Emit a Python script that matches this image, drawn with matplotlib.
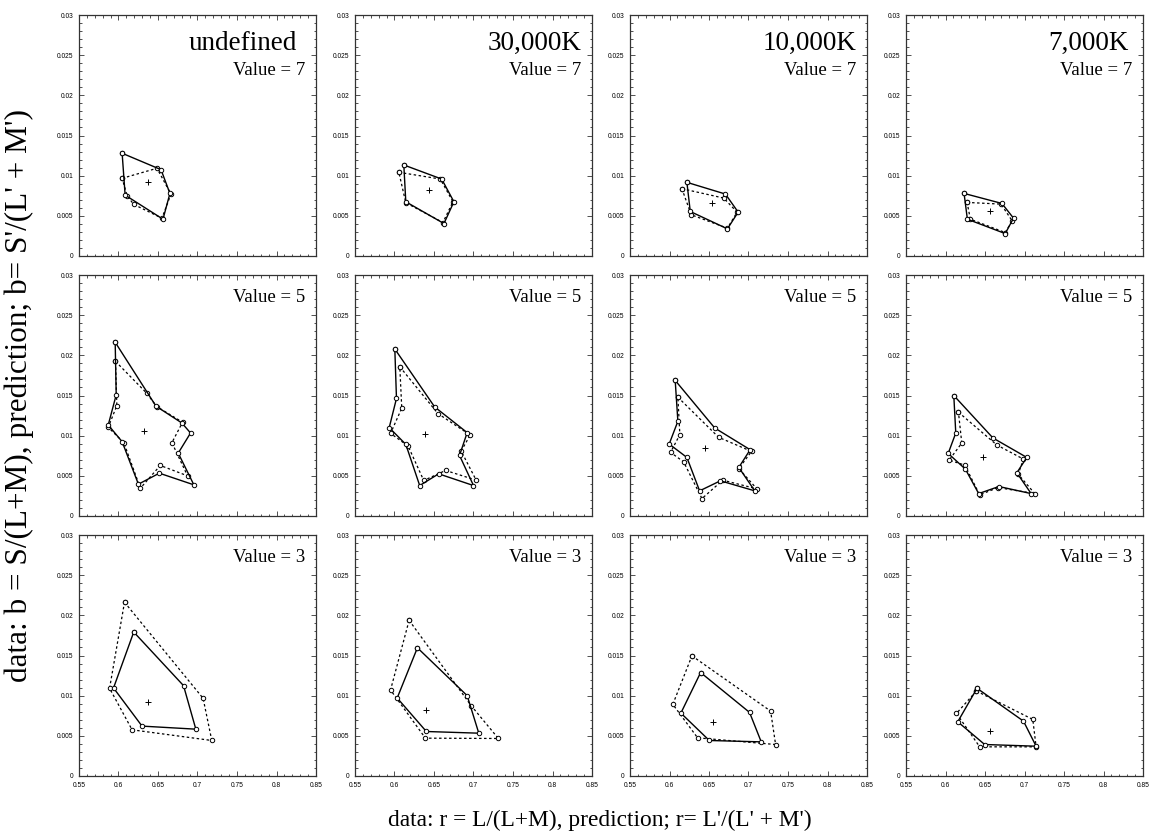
import numpy as np
import matplotlib
matplotlib.use("Agg")
import matplotlib.pyplot as plt
from matplotlib.ticker import FixedLocator, MultipleLocator, FixedFormatter

# ---------------- data ----------------
illuminants = ["undefined", "30,000K", "10,000K", "7,000K"]
values = [7, 5, 3]

x_ticks = [0.55, 0.6, 0.65, 0.7, 0.75, 0.8, 0.85]
x_tick_labels = ["0.55", "0.6", "0.65", "0.7", "0.75", "0.8", "0.85"]
y_ticks = [0, 0.005, 0.01, 0.015, 0.02, 0.025, 0.03]
y_tick_labels = ["0", "0.005", "0.01", "0.015", "0.02", "0.025", "0.03"]

# Value = 7 row
v7_undef_data_r = [0.6046, 0.6538, 0.6651, 0.6563, 0.6084]
v7_undef_data_b = [0.01279, 0.01075, 0.00779, 0.00458, 0.00758]
v7_undef_pred_r = [0.6046, 0.6487, 0.6664, 0.6550, 0.6193, 0.6109]
v7_undef_pred_b = [0.00967, 0.01092, 0.00771, 0.00471, 0.00642, 0.00750]
v7_undef_center = [0.637, 0.00925]

v7_30k_data_r = [0.6118, 0.6597, 0.6752, 0.6626, 0.6143]
v7_30k_data_b = [0.01133, 0.00958, 0.00675, 0.00404, 0.00675]
v7_30k_pred_r = [0.6055, 0.6580, 0.6740, 0.6613, 0.6143]
v7_30k_pred_b = [0.01042, 0.00958, 0.00675, 0.00417, 0.00663]
v7_30k_center = [0.6437, 0.00821]

v7_10k_data_r = [0.6220, 0.6708, 0.6869, 0.6733, 0.6263]
v7_10k_data_b = [0.00917, 0.00771, 0.00546, 0.00338, 0.00554]
v7_10k_pred_r = [0.6157, 0.6686, 0.6856, 0.6733, 0.6275]
v7_10k_pred_b = [0.00838, 0.00721, 0.00546, 0.00346, 0.00513]
v7_10k_center = [0.6538, 0.00663]

v7_7k_data_r = [0.6235, 0.6714, 0.6861, 0.6756, 0.6277]
v7_7k_data_b = [0.00779, 0.00654, 0.00471, 0.00279, 0.00458]
v7_7k_pred_r = [0.6273, 0.6702, 0.6844, 0.6756, 0.6315]
v7_7k_pred_b = [0.00667, 0.00646, 0.00438, 0.00292, 0.00458]
v7_7k_center = [0.6559, 0.00563]

# Value = 5 row
v5_undef_data_r = [0.5958, 0.6475, 0.6802, 0.6912, 0.6756, 0.6954, 0.6517, 0.6252, 0.6046, 0.5870, 0.5971]
v5_undef_data_b = [0.02163, 0.01367, 0.01158, 0.01033, 0.00783, 0.00388, 0.00533, 0.00396, 0.00925, 0.01133, 0.01508]
v5_undef_pred_r = [0.5962, 0.6357, 0.6483, 0.6811, 0.6676, 0.6874, 0.6529, 0.6277, 0.6067, 0.5870, 0.5979]
v5_undef_pred_b = [0.01925, 0.01529, 0.01363, 0.01167, 0.00913, 0.00500, 0.00629, 0.00346, 0.00913, 0.01104, 0.01375]
v5_undef_center = [0.6319, 0.01063]

v5_30k_data_r = [0.6004, 0.6508, 0.6920, 0.6823, 0.7000, 0.6559, 0.6319, 0.6143, 0.5933, 0.6025]
v5_30k_data_b = [0.02079, 0.01358, 0.01038, 0.00754, 0.00379, 0.00525, 0.00379, 0.00892, 0.01100, 0.01463]
v5_30k_pred_r = [0.6067, 0.6550, 0.6958, 0.6844, 0.7034, 0.6647, 0.6370, 0.6172, 0.5950, 0.6092]
v5_30k_pred_b = [0.01858, 0.01275, 0.01008, 0.00808, 0.00446, 0.00567, 0.00442, 0.00871, 0.01029, 0.01342]
v5_30k_center = [0.6382, 0.01017]

v5_10k_data_r = [0.6072, 0.6572, 0.7021, 0.6877, 0.7080, 0.6644, 0.6381, 0.6220, 0.5996, 0.6106]
v5_10k_data_b = [0.01688, 0.01096, 0.00825, 0.00604, 0.00313, 0.00438, 0.00313, 0.00729, 0.00896, 0.01179]
v5_10k_pred_r = [0.6106, 0.6623, 0.7038, 0.6877, 0.7106, 0.6674, 0.6411, 0.6178, 0.6013, 0.6131]
v5_10k_pred_b = [0.01479, 0.00979, 0.00804, 0.00590, 0.00338, 0.00446, 0.00217, 0.00675, 0.00792, 0.01013]
v5_10k_center = [0.6445, 0.00846]

v5_7k_data_r = [0.6105, 0.6601, 0.7029, 0.6903, 0.7084, 0.6676, 0.6420, 0.6252, 0.6034, 0.6130]
v5_7k_data_b = [0.01500, 0.00971, 0.00729, 0.00538, 0.00279, 0.00367, 0.00279, 0.00583, 0.00779, 0.01033]
v5_7k_pred_r = [0.6164, 0.6651, 0.6987, 0.6920, 0.7130, 0.6664, 0.6433, 0.6244, 0.6046, 0.6206]
v5_7k_pred_b = [0.01292, 0.00883, 0.00708, 0.00520, 0.00279, 0.00354, 0.00263, 0.00633, 0.00696, 0.00908]
v5_7k_center = [0.6474, 0.00729]

# Value = 3 row
v3_undef_data_r = [0.6193, 0.6823, 0.6979, 0.6298, 0.5937]
v3_undef_data_b = [0.01792, 0.01125, 0.00583, 0.00621, 0.01096]
v3_undef_pred_r = [0.6076, 0.7071, 0.7181, 0.6172, 0.5887]
v3_undef_pred_b = [0.02163, 0.00967, 0.00442, 0.00575, 0.01092]
v3_undef_center = [0.6370, 0.00925]

v3_30k_data_r = [0.6290, 0.6920, 0.7067, 0.6403, 0.6034]
v3_30k_data_b = [0.01596, 0.01000, 0.00533, 0.00554, 0.00971]
v3_30k_pred_r = [0.6185, 0.6971, 0.7315, 0.6391, 0.5950]
v3_30k_pred_b = [0.01938, 0.00875, 0.00467, 0.00471, 0.01071]
v3_30k_center = [0.6403, 0.00825]

v3_10k_data_r = [0.6394, 0.7013, 0.7161, 0.6504, 0.6144]
v3_10k_data_b = [0.01288, 0.00792, 0.00425, 0.00442, 0.00783]
v3_10k_pred_r = [0.6284, 0.7280, 0.7343, 0.6356, 0.6042]
v3_10k_pred_b = [0.01496, 0.00808, 0.00392, 0.00475, 0.00892]
v3_10k_center = [0.6555, 0.00667]

v3_7k_data_r = [0.6399, 0.6987, 0.7147, 0.6496, 0.6155]
v3_7k_data_b = [0.01092, 0.00683, 0.00371, 0.00392, 0.00675]
v3_7k_pred_r = [0.6391, 0.7105, 0.7147, 0.6433, 0.6139]
v3_7k_pred_b = [0.01058, 0.00704, 0.00363, 0.00363, 0.00779]
v3_7k_center = [0.6559, 0.00563]

panels = [
    [(v7_undef_data_r, v7_undef_data_b, v7_undef_pred_r, v7_undef_pred_b, v7_undef_center),
     (v7_30k_data_r, v7_30k_data_b, v7_30k_pred_r, v7_30k_pred_b, v7_30k_center),
     (v7_10k_data_r, v7_10k_data_b, v7_10k_pred_r, v7_10k_pred_b, v7_10k_center),
     (v7_7k_data_r, v7_7k_data_b, v7_7k_pred_r, v7_7k_pred_b, v7_7k_center)],
    [(v5_undef_data_r, v5_undef_data_b, v5_undef_pred_r, v5_undef_pred_b, v5_undef_center),
     (v5_30k_data_r, v5_30k_data_b, v5_30k_pred_r, v5_30k_pred_b, v5_30k_center),
     (v5_10k_data_r, v5_10k_data_b, v5_10k_pred_r, v5_10k_pred_b, v5_10k_center),
     (v5_7k_data_r, v5_7k_data_b, v5_7k_pred_r, v5_7k_pred_b, v5_7k_center)],
    [(v3_undef_data_r, v3_undef_data_b, v3_undef_pred_r, v3_undef_pred_b, v3_undef_center),
     (v3_30k_data_r, v3_30k_data_b, v3_30k_pred_r, v3_30k_pred_b, v3_30k_center),
     (v3_10k_data_r, v3_10k_data_b, v3_10k_pred_r, v3_10k_pred_b, v3_10k_center),
     (v3_7k_data_r, v3_7k_data_b, v3_7k_pred_r, v3_7k_pred_b, v3_7k_center)],
]

# ---------------- figure ----------------
W, H = 1158, 839
fig = plt.figure(figsize=(W / 100, H / 100), dpi=100)

serif = ["Liberation Serif", "DejaVu Serif"]
sans = ["Liberation Sans", "DejaVu Sans"]

col_left = [79, 355, 630, 906]
row_top = [15, 275, 535]
ax_w, ax_h = 237, 241
title_x = [0.92, 0.955, 0.955, 0.94]


def closed(a):
    return list(a) + [a[0]]


for i in range(3):
    for j in range(4):
        l = col_left[j] / W
        b = 1 - (row_top[i] + ax_h) / H
        ax = fig.add_axes([l, b, ax_w / W, ax_h / H])
        dr, db, pr, pb, c = panels[i][j]
        ax.plot(closed(pr), closed(pb), color="black", lw=0.9, ls=(0, (2, 2)),
                marker="o", ms=3.2, mfc="white", mec="black", mew=0.7, zorder=2)
        ax.plot(closed(dr), closed(db), color="black", lw=1.0, ls="-",
                marker="o", ms=3.2, mfc="white", mec="black", mew=0.7, zorder=3)
        ax.plot([c[0]], [c[1]], marker="+", ms=4, color="black", mew=0.7, ls="none")

        ax.set_xlim(0.55, 0.85)
        ax.set_ylim(0, 0.03)
        ax.xaxis.set_major_locator(FixedLocator(x_ticks))
        ax.yaxis.set_major_locator(FixedLocator(y_ticks))
        ax.xaxis.set_minor_locator(MultipleLocator(0.01))
        ax.yaxis.set_minor_locator(MultipleLocator(0.001))
        ax.yaxis.set_major_formatter(FixedFormatter(y_tick_labels))
        if i == 2:
            ax.xaxis.set_major_formatter(FixedFormatter(x_tick_labels))
        else:
            ax.set_xticklabels([])
        ax.tick_params(which="both", direction="in", top=True, right=True,
                       width=0.6, color="#333333")
        ax.tick_params(which="major", length=3.5, labelsize=4.8, pad=4)
        ax.tick_params(which="minor", length=1.8)
        for lab in ax.get_xticklabels() + ax.get_yticklabels():
            lab.set_family(sans)
        for sp in ax.spines.values():
            sp.set_linewidth(0.9)
            sp.set_color("#333333")

        if i == 0:
            ax.text(title_x[j], 0.855, illuminants[j], transform=ax.transAxes,
                    ha="right", va="baseline", fontsize=19.5, family=serif)
            ax.text(0.955, 0.75, "Value = %d" % values[i], transform=ax.transAxes,
                    ha="right", va="baseline", fontsize=13.5, family=serif)
        else:
            ax.text(0.955, 0.89, "Value = %d" % values[i], transform=ax.transAxes,
                    ha="right", va="baseline", fontsize=13.5, family=serif)

fig.text(600 / W, 1 - 820 / H, "data: r = L/(L+M), prediction; r= L'/(L' + M')",
         ha="center", va="center", fontsize=16.8, family=serif)
fig.text(19 / W, 1 - 395 / H, "data: b = S/(L+M), prediction; b= S'/(L' + M')",
         ha="center", va="center", rotation=90, fontsize=22.5, family=serif)

fig.savefig("out.png", dpi=100)
